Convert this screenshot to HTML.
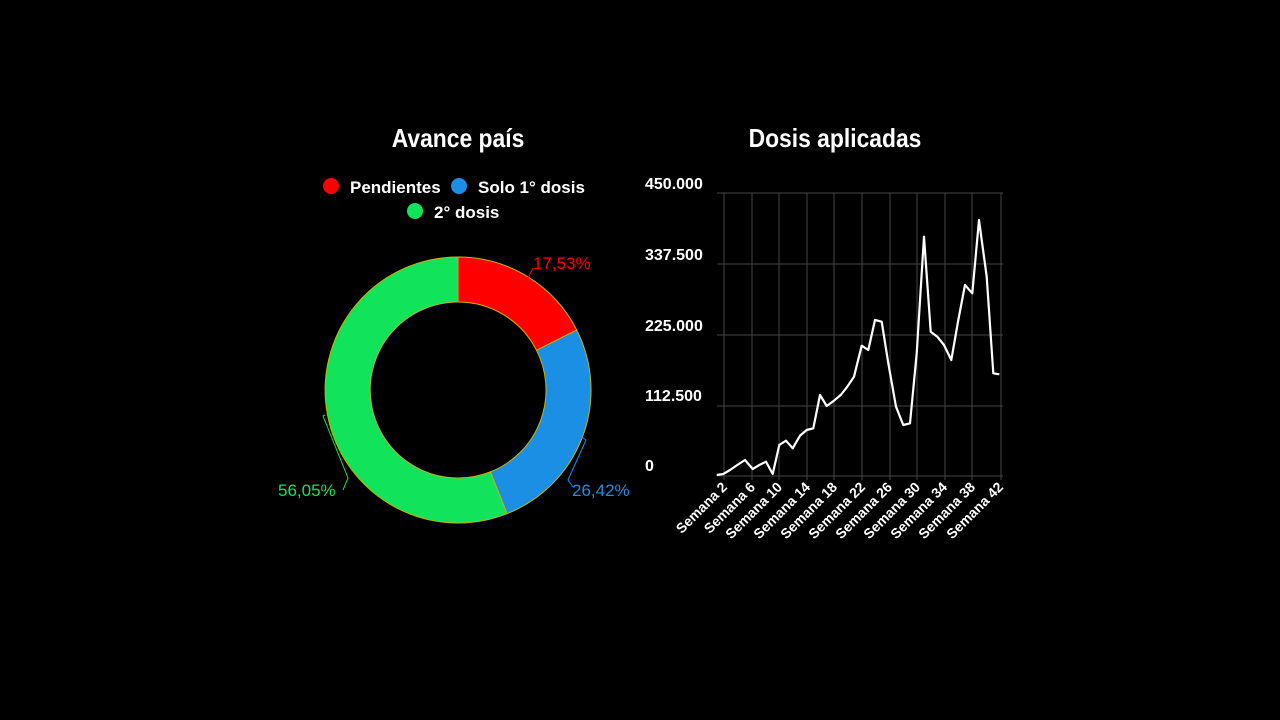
<!DOCTYPE html>
<html><head><meta charset="utf-8"><style>
html,body{margin:0;padding:0;background:#000;width:1280px;height:720px;overflow:hidden}
svg text{font-family:"Liberation Sans",sans-serif}
</style></head><body>
<svg width="1280" height="720" viewBox="0 0 1280 720">
<rect width="1280" height="720" fill="#000"/>
<text x="458" y="147" fill="#fff" font-size="26" font-weight="bold" text-anchor="middle" transform="translate(458 0) scale(0.88 1) translate(-458 0)">Avance país</text>
<text x="835" y="147" fill="#fff" font-size="26" font-weight="bold" text-anchor="middle" transform="translate(835 0) scale(0.88 1) translate(-835 0)">Dosis aplicadas</text>
<!-- legend -->
<circle cx="331" cy="186" r="8" fill="#ff0000"/>
<text x="350" y="193" fill="#fff" font-size="17" font-weight="bold">Pendientes</text>
<circle cx="459" cy="186" r="8" fill="#1a8fe3"/>
<text x="478" y="193" fill="#fff" font-size="17" font-weight="bold">Solo 1° dosis</text>
<circle cx="415" cy="211" r="8" fill="#11e35a"/>
<text x="434" y="218" fill="#fff" font-size="17" font-weight="bold">2° dosis</text>
<!-- donut -->
<g stroke="#c8b400" stroke-width="1">
<path d="M458 257 A133 133 0 0 1 576.7 330 L536.5 350.3 A88 88 0 0 0 458 302 Z" fill="#ff0000"/>
<path d="M576.7 330 A133 133 0 0 1 507 513.7 L490.4 471.9 A88 88 0 0 0 536.5 350.3 Z" fill="#1a8fe3"/>
<path d="M507 513.7 A133 133 0 1 1 458 257 L458 302 A88 88 0 1 0 490.4 471.9 Z" fill="#11e35a"/>
</g>
<path d="M527 280 L533 268" stroke="#ff0000" fill="none"/>
<text x="533" y="269" fill="#ff0000" font-size="17">17,53%</text>
<path d="M582 437 L586 440 L568 480 L573 487" stroke="#1a8fe3" fill="none"/>
<text x="572" y="496" fill="#1a8fe3" font-size="17">26,42%</text>
<path d="M325 415 L323 416 L348 478 L343 490" stroke="#11e35a" fill="none"/>
<text x="278" y="496" fill="#11e35a" font-size="17">56,05%</text>
<!-- line chart grid -->
<g stroke="#444" stroke-width="1">
<line x1="717" y1="193" x2="1003" y2="193"/>
<line x1="717" y1="264" x2="1003" y2="264"/>
<line x1="717" y1="335" x2="1003" y2="335"/>
<line x1="717" y1="406" x2="1003" y2="406"/>
<line x1="717" y1="476" x2="1003" y2="476"/>
<line x1="724" y1="193" x2="724" y2="480"/>
<line x1="752" y1="193" x2="752" y2="480"/>
<line x1="779" y1="193" x2="779" y2="480"/>
<line x1="807" y1="193" x2="807" y2="480"/>
<line x1="834" y1="193" x2="834" y2="480"/>
<line x1="862" y1="193" x2="862" y2="480"/>
<line x1="890" y1="193" x2="890" y2="480"/>
<line x1="917" y1="193" x2="917" y2="480"/>
<line x1="945" y1="193" x2="945" y2="480"/>
<line x1="972" y1="193" x2="972" y2="480"/>
<line x1="1001" y1="193" x2="1001" y2="480"/>
</g>
<g fill="#fff" font-size="16" font-weight="bold">
<text x="645" y="189">450.000</text>
<text x="645" y="260">337.500</text>
<text x="645" y="331">225.000</text>
<text x="645" y="401">112.500</text>
<text x="645" y="471">0</text>
</g>
<polyline fill="none" stroke="#fff" stroke-width="2.2" stroke-linejoin="round" points="716.7,475 723.3,474 730,470 737.3,465 745,460 752.7,469 759.3,465 766,461.7 772.7,474 779.3,445 786,440.7 792.7,448.3 800,435.7 806.7,430 813.3,428.3 820,395 826.7,406 834,400.7 840.7,395 847.3,386.7 854,376.7 861.7,345.7 868.3,350 875,320 881.7,321.7 888.3,363.3 896,406.7 903.3,425 910,423.3 916.7,353.3 924,236.7 930.7,331.7 937.3,336.7 944,345 951.3,360 958.3,320 965,285 972.3,293.3 979,220 986.7,276.7 993.3,373.3 999.3,374.3"/>
<g fill="#fff" font-size="14" font-weight="bold" text-anchor="end">
<text transform="translate(728 488) rotate(-45)">Semana 2</text>
<text transform="translate(756 488) rotate(-45)">Semana 6</text>
<text transform="translate(783 488) rotate(-45)">Semana 10</text>
<text transform="translate(811 488) rotate(-45)">Semana 14</text>
<text transform="translate(838 488) rotate(-45)">Semana 18</text>
<text transform="translate(866 488) rotate(-45)">Semana 22</text>
<text transform="translate(893 488) rotate(-45)">Semana 26</text>
<text transform="translate(921 488) rotate(-45)">Semana 30</text>
<text transform="translate(948 488) rotate(-45)">Semana 34</text>
<text transform="translate(976 488) rotate(-45)">Semana 38</text>
<text transform="translate(1004 488) rotate(-45)">Semana 42</text>
</g>
</svg>
</body></html>
